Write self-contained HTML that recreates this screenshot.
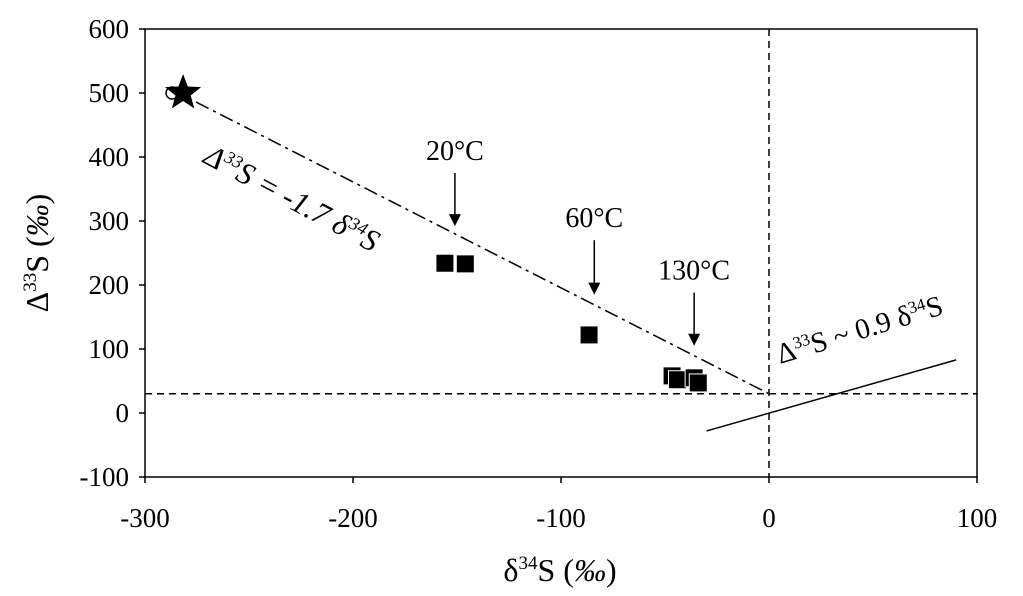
<!DOCTYPE html>
<html><head><meta charset="utf-8"><style>
body{margin:0;background:#fff}
svg{display:block;font-family:"Liberation Serif",serif}
</style></head><body>
<svg id="c" width="1023" height="596"></svg>
<script>
const xTicks=[-300,-200,-100,0,100];
const yTicks=[-100,0,100,200,300,400,500,600];
const squaresX=[-155.8,-146,-86.5,-46.6,-44,-36,-34];
const squaresY=[234,233,122,58,52,55,47];
const starPt=[-281.7,500];
const circlePt=[-287,500];
const fitLineX=[-287,0];
const fitLineY=[505,30];
const mdfLineX=[-30,90];
const mdfLineY=[-28,83];
const refY=30, refX=0;
const arrowLabels=["20°C","60°C","130°C"];
const arrowX=[-151,-84,-36];
const arrowTopY=[375,270,188];
const arrowBotY=[292,185,105];

const X=v=>145+(v+300)*2.08;
const Y=v=>413-v*0.64;
const NS="http://www.w3.org/2000/svg";
const svg=document.getElementById('c');
function mk(t,a,parent){const e=document.createElementNS(NS,t);for(const k in a)e.setAttribute(k,a[k]);(parent||svg).appendChild(e);return e;}

const frame=mk('rect',{x:X(-300),y:Y(600),width:X(100)-X(-300),height:Y(-100)-Y(600),fill:'none',stroke:'#000','stroke-width':1.5});



xTicks.forEach(v=>{
  const l=mk('line',{x1:X(v),x2:X(v),y1:Y(-100),y2:Y(-100)+6,stroke:'#000','stroke-width':1.5});
  
  
  const t=mk('text',{x:X(v),y:527,'font-size':27,'text-anchor':'middle'});t.textContent=v;
  
  
});
yTicks.forEach(v=>{
  const l=mk('line',{x1:X(-300)-6,x2:X(-300),y1:Y(v),y2:Y(v),stroke:'#000','stroke-width':1.5});
  
  
  const t=mk('text',{x:129,y:Y(v)+9,'font-size':27,'text-anchor':'end'});t.textContent=v;
  
  
});

const hr=mk('line',{x1:X(-300),x2:X(100),y1:Y(refY),y2:Y(refY),stroke:'#000','stroke-width':1.5,'stroke-dasharray':'7,5'});


const vr=mk('line',{x1:X(refX),x2:X(refX),y1:Y(600),y2:Y(-100),stroke:'#000','stroke-width':1.5,'stroke-dasharray':'7,5'});



const fl=mk('line',{x1:X(fitLineX[0]),y1:Y(fitLineY[0]),x2:X(fitLineX[1]),y2:Y(fitLineY[1]),stroke:'#000','stroke-width':1.5,'stroke-dasharray':'14,5,3,5'});


const ml=mk('line',{x1:X(mdfLineX[0]),y1:Y(mdfLineY[0]),x2:X(mdfLineX[1]),y2:Y(mdfLineY[1]),stroke:'#000','stroke-width':1.5});



squaresX.forEach((v,i)=>{
  const r=mk('rect',{x:X(v)-9,y:Y(squaresY[i])-9,width:18,height:18,fill:'#000',stroke:'#fff','stroke-width':1});
  
  
});

const c=mk('circle',{cx:X(circlePt[0]),cy:Y(circlePt[1]),r:6,fill:'#fff',stroke:'#000','stroke-width':1.5});


(function(){const cx=X(starPt[0]),cy=Y(starPt[1]);let p=[];for(let i=0;i<10;i++){const r=i%2?8:19,a=-Math.PI/2+i*Math.PI/5;p.push((cx+r*Math.cos(a)).toFixed(1)+','+(cy+r*Math.sin(a)).toFixed(1));}
const s=mk('polygon',{points:p.join(' '),fill:'#000'});

})();

arrowX.forEach((v,i)=>{
  const x=X(v),y1=Y(arrowTopY[i]),y2=Y(arrowBotY[i]);
  const l=mk('line',{x1:x,x2:x,y1:y1,y2:y2-4,stroke:'#000','stroke-width':1.5});
  
  
  const h=mk('polygon',{points:`${x-6},${y2-12} ${x+6},${y2-12} ${x},${y2}`,fill:'#000'});
  
  
  const t=mk('text',{x:x,y:y1-13,'font-size':28,'text-anchor':'middle'});t.textContent=arrowLabels[i];
  
  
});
</script>
<div style="position:absolute;left:0;top:0;width:1023px;height:596px;pointer-events:none">
<svg width="1023" height="596" style="font-family:'Liberation Serif',serif">
<text transform="translate(202,162) rotate(28)" font-size="31" font-style="italic">Δ<tspan font-size="18" dy="-11">33</tspan><tspan dy="11">S = -1.7 δ</tspan><tspan font-size="18" dy="-11">34</tspan><tspan dy="11">S</tspan></text>
<text transform="translate(780,364) rotate(-17)" font-size="29">Δ<tspan font-size="17" dy="-10">33</tspan><tspan dy="10">S ~ 0.9 δ</tspan><tspan font-size="17" dy="-10">34</tspan><tspan dy="10">S</tspan></text>
<text x="560" y="581" font-size="32" text-anchor="middle">δ<tspan font-size="19" dy="-12">34</tspan><tspan dy="12">S (</tspan><tspan font-style="italic">‰</tspan>)</text>
<text transform="translate(48,253) rotate(-90)" font-size="32" text-anchor="middle">Δ<tspan font-size="19" dy="-12">33</tspan><tspan dy="12">S (</tspan><tspan font-style="italic">‰</tspan>)</text>
</svg></div>
</body></html>
